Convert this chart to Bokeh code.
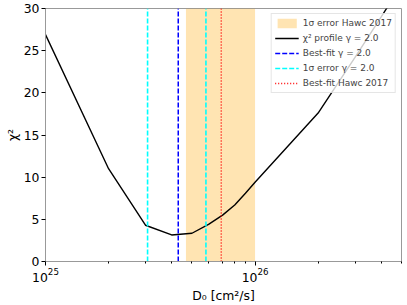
from bokeh.plotting import figure
from bokeh.models import FixedTicker, Range1d
from bokeh.embed import file_html
from bokeh.resources import INLINE

# ---- data ----
D0 = [1e25, 2e25, 3e25, 4e25, 5e25, 6e25, 7e25, 8e25, 9e25, 1e26, 2e26, 3e26, 4e26, 5e26]
chi2 = [26.9, 11.0, 4.3, 3.15, 3.35, 4.4, 5.5, 6.7, 8.1, 9.4, 17.6, 24.2, 29.0, 32.8]

best_fit = [4.3e25]
err_1sigma = [3.07e25, 5.83e25]
hawc_best = [6.9e25]
hawc_band_lo = [4.68e25]
hawc_band_hi = [1.0e26]

x_lim = (1e25, 5e26)
y_lim = (0, 30)
y_ticks = [0, 5, 10, 15, 20, 25, 30]
x_major = [1e25, 1e26]
x_minor = [2e25, 3e25, 4e25, 5e25, 6e25, 7e25, 8e25, 9e25, 2e26, 3e26, 4e26, 5e26]

FONT = "DejaVu Sans"

p = figure(width=407, height=305, x_axis_type="log",
           x_range=Range1d(*x_lim), y_range=Range1d(*y_lim),
           output_backend="svg", toolbar_location=None,
           min_border_left=45, min_border_right=6, min_border_top=8, min_border_bottom=43)

p.quad(left=hawc_band_lo, right=hawc_band_hi, bottom=[y_lim[0]], top=[y_lim[1]],
       fill_color="orange", fill_alpha=0.3, line_color=None,
       legend_label="1σ error Hawc 2017")
p.line(D0, chi2, line_color="black", line_width=1.4,
       legend_label="χ² profile γ = 2.0")
p.segment(x0=best_fit, y0=[y_lim[0]] * len(best_fit), x1=best_fit, y1=[y_lim[1]] * len(best_fit),
          line_color="blue", line_width=1.5, line_dash="5 2",
          legend_label="Best-fit γ = 2.0")
p.segment(x0=err_1sigma, y0=[y_lim[0]] * len(err_1sigma), x1=err_1sigma, y1=[y_lim[1]] * len(err_1sigma),
          line_color="cyan", line_width=1.6, line_dash="5 2",
          legend_label="1σ error γ = 2.0")
p.segment(x0=hawc_best, y0=[y_lim[0]] * len(hawc_best), x1=hawc_best, y1=[y_lim[1]] * len(hawc_best),
          line_color="red", line_width=1.5, line_dash="1 2",
          legend_label="Best-fit Hawc 2017")

p.grid.visible = False
p.outline_line_color = "#999999"
p.outline_line_width = 1

p.xaxis.ticker = FixedTicker(ticks=x_major, minor_ticks=x_minor)
p.yaxis.ticker = FixedTicker(ticks=y_ticks)
for ax in (p.xaxis, p.yaxis):
    ax.axis_line_color = "#999999"
    ax.major_tick_line_color = "black"
    ax.minor_tick_line_color = "black"
    ax.major_tick_in = 0
    ax.major_tick_out = 4
    ax.minor_tick_in = 0
    ax.minor_tick_out = 2
    ax.major_label_text_font = FONT
    ax.major_label_text_font_size = "12.4px"
    ax.major_label_text_color = "black"
    ax.axis_label_text_font = FONT
    ax.axis_label_text_font_size = "12.4px"
    ax.axis_label_text_font_style = "normal"
    ax.axis_label_text_color = "black"

p.xaxis.axis_label = "D₀ [cm²/s]"
p.yaxis.axis_label = "χ²"
p.xaxis.major_label_standoff = 2
p.yaxis.major_label_standoff = 2
p.xaxis.axis_label_standoff = 3
p.yaxis.axis_label_standoff = 1

lg = p.legend[0]
lg.location = "top_right"
lg.margin = 5
lg.padding = 3
lg.spacing = 3
lg.glyph_width = 24
lg.glyph_height = 12
lg.label_height = 12
lg.label_standoff = 4
lg.label_text_font = FONT
lg.label_text_font_size = "9px"
lg.border_line_color = "#cccccc"
lg.background_fill_alpha = 0.8

open("out.html", "w").write(file_html(p, INLINE))
